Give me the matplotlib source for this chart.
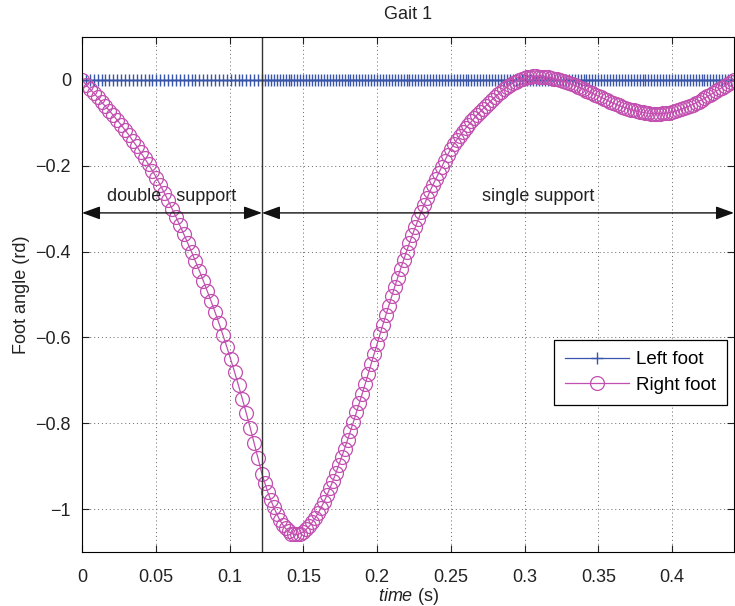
import numpy as np
import matplotlib
matplotlib.use('Agg')
import matplotlib.pyplot as plt
from matplotlib.ticker import FuncFormatter

plt.rcParams['font.family'] = ['Liberation Sans', 'DejaVu Sans']
plt.rcParams['mathtext.fontset'] = 'custom'
plt.rcParams['mathtext.it'] = 'Liberation Sans:italic'
plt.rcParams['mathtext.rm'] = 'Liberation Sans'

# phase boundaries (s)
t_switch = 0.122
t_end = 0.442

# double support: 47 samples from 0 to t_switch
right_ds = [0.000, -0.011, -0.021, -0.031, -0.041, -0.052, -0.062, -0.072,
            -0.083, -0.094, -0.105, -0.117, -0.129, -0.142, -0.155, -0.169,
            -0.183, -0.197, -0.212, -0.228, -0.245, -0.263, -0.281, -0.300,
            -0.319, -0.339, -0.359, -0.380, -0.401, -0.423, -0.445, -0.468,
            -0.492, -0.516, -0.541, -0.567, -0.594, -0.622, -0.651, -0.681,
            -0.712, -0.744, -0.777, -0.811, -0.846, -0.882, -0.918]

# single support: samples every 2 ms from 0.124 to t_end
right_ss = [-0.940, -0.961, -0.979, -0.996, -1.011, -1.025, -1.036, -1.045,
            -1.052, -1.057, -1.059, -1.059, -1.057, -1.053, -1.047, -1.040,
            -1.031, -1.021, -1.010, -0.997, -0.983, -0.968, -0.952, -0.935,
            -0.917, -0.898, -0.879, -0.859, -0.839, -0.818, -0.797, -0.775,
            -0.753, -0.731, -0.708, -0.685, -0.662, -0.639, -0.616, -0.593,
            -0.570, -0.548, -0.526, -0.504, -0.482, -0.461, -0.440, -0.420,
            -0.400, -0.380, -0.361, -0.343, -0.325, -0.308, -0.291, -0.275,
            -0.259, -0.244, -0.230, -0.216, -0.202, -0.188, -0.174, -0.161,
            -0.150, -0.140, -0.131, -0.122, -0.113, -0.105, -0.097, -0.089,
            -0.081, -0.074, -0.067, -0.060, -0.053, -0.046, -0.040, -0.034,
            -0.028, -0.022, -0.017, -0.012, -0.008, -0.004, -0.001, 0.002,
            0.004, 0.006, 0.007, 0.008, 0.008, 0.0077, 0.0071, 0.0065,
            0.0055, 0.0043, 0.0029, 0.0012, -0.0008, -0.003, -0.0052, -0.0075,
            -0.0102, -0.013, -0.016, -0.019, -0.022, -0.025, -0.028, -0.031,
            -0.0345, -0.038, -0.041, -0.044, -0.0475, -0.051, -0.054, -0.057,
            -0.0597, -0.0623, -0.0648, -0.0671, -0.0693, -0.0713, -0.073, -0.0746,
            -0.0759, -0.077, -0.0779, -0.0785, -0.0789, -0.079, -0.0788, -0.0783,
            -0.0775, -0.0764, -0.0750, -0.0733, -0.0713, -0.0690, -0.0665, -0.0637,
            -0.0607, -0.0575, -0.0541, -0.0505, -0.0467, -0.0428, -0.0388, -0.0347,
            -0.0306, -0.0264, -0.0222, -0.0180, -0.0138, -0.0096, -0.0054, -0.0012]

t_ds = np.linspace(0, t_switch, len(right_ds))
t_ss = np.linspace(0.124, t_end, len(right_ss))
time = np.concatenate([t_ds, t_ss])
right_foot = np.array(right_ds + right_ss)
left_foot = np.zeros(len(time))

xticks = [0, 0.05, 0.1, 0.15, 0.2, 0.25, 0.3, 0.35, 0.4]
yticks = [0, -0.2, -0.4, -0.6, -0.8, -1.0]
arrow_y = -0.31

fig = plt.figure(figsize=(7.35, 6.06), dpi=100)
ax = fig.add_axes([0.1116, 0.0891, 0.887, 0.850])

ln1, = ax.plot(time, left_foot, color='#3a56aa', marker='+', markersize=9,
               markeredgewidth=1.0, linewidth=0.9)
ln2, = ax.plot(time, right_foot, color='#c24fb0', marker='o', markersize=10,
               markerfacecolor='none', markeredgewidth=0.9, linewidth=0.9)

ax.axvline(t_switch, color='#333333', linewidth=1.0)

aprops = dict(arrowstyle='<|-|>,head_length=1.1,head_width=0.4', color='#111111',
              linewidth=1.0, shrinkA=0, shrinkB=0)
ax.annotate('', xy=(0, arrow_y), xytext=(t_switch, arrow_y), arrowprops=aprops)
ax.annotate('', xy=(t_switch, arrow_y), xytext=(t_end, arrow_y), arrowprops=aprops)
ax.text(0.0605, -0.272, 'double   support', fontsize=13, ha='center', va='center',
        color='#222222')
ax.text(0.309, -0.272, 'single support', fontsize=13, ha='center', va='center',
        color='#222222')

ax.set_xlim(0, t_end)
ax.set_ylim(-1.1, 0.1)
ax.set_xticks(xticks)
ax.set_yticks(yticks)
fmt = FuncFormatter(lambda v, p: ('%g' % v).replace('-', '\u2212'))
ax.xaxis.set_major_formatter(fmt)
ax.yaxis.set_major_formatter(fmt)
ax.tick_params(direction='in', length=5, labelsize=13, top=True, right=True,
               colors='#222222')
ax.tick_params(axis='x', pad=12)
ax.tick_params(axis='y', pad=8)
ax.grid(True, linestyle=(0, (1, 3)), color='#666666', linewidth=0.7)

ax.set_title('Gait 1', fontsize=13, color='#222222', pad=13)
ax.set_xlabel(r'$\mathit{time}$ (s)', fontsize=13, color='#222222', labelpad=0)
ax.set_ylabel('Foot angle (rd)', fontsize=13, color='#222222', labelpad=4)

leg = ax.legend([ln1, ln2], ['Left foot', 'Right foot'], loc='upper right',
                bbox_to_anchor=(0.99, 0.412), fontsize=13.5, fancybox=False,
                edgecolor='black', framealpha=1, handlelength=3.4,
                borderpad=0.6, labelspacing=0.45, handletextpad=0.4,
                borderaxespad=0)
leg.get_frame().set_linewidth(0.9)

fig.savefig('out.png', dpi=100)
